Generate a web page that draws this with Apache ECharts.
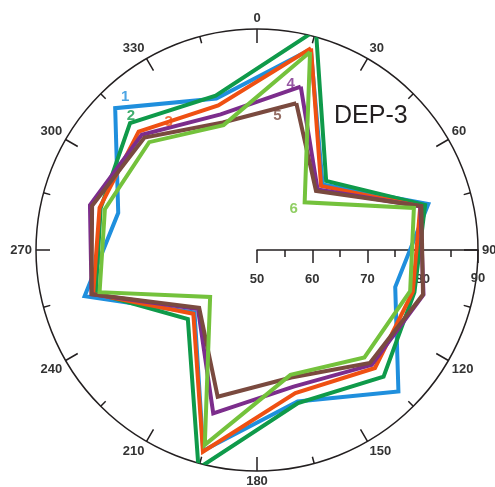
<!DOCTYPE html>
<html>
<head>
<meta charset="utf-8">
<script src="https://cdn.jsdelivr.net/npm/echarts@6/dist/echarts.min.js"></script>
<style>
html,body{margin:0;padding:0;background:#fff;}
#chart{width:495px;height:487px;}
</style>
</head>
<body>
<div id="chart"></div>
<script>
// Angles (degrees, clockwise from top) of the polygon vertices
const angles = [15, 45, 75, 105, 135, 165, 195, 225, 255, 285, 315, 345];
// Radial values per series
const s1 = [87.6, 66.8, 82.1, 75.9, 86.2, 78.4, 87.6, 66.0, 82.3, 76.0, 86.3, 78.4];
const s2 = [91.2, 67.7, 81.5, 79.5, 82.4, 78.7, 90.9, 67.7, 80.2, 79.3, 82.5, 78.9];
const s3 = [87.8, 66.4, 80.6, 79.2, 80.2, 76.8, 87.8, 66.3, 80.7, 79.5, 80.3, 77.1];
const s4 = [80.6, 65.5, 80.6, 81.2, 79.4, 75.6, 80.6, 65.1, 81.0, 81.3, 79.5, 75.4];
const s5 = [77.5, 65.1, 80.8, 81.1, 78.9, 73.9, 77.5, 64.8, 81.0, 80.9, 78.8, 73.9];
const s6 = [87.1, 62.2, 79.4, 78.7, 77.5, 73.4, 86.5, 62.0, 79.5, 78.5, 77.6, 73.4];
const seriesNames = ['1', '2', '3', '4', '5', '6'];
const seriesColors = ['#1f8fdd', '#0f9a4a', '#ef5012', '#7c2d8c', '#7a4a3f', '#74c23c'];
// Which vertex (angle) each series' number label is attached to
const labelAngles = [315, 315, 315, 15, 15, 45];
// Axis ticks
const angleMin = 90, angleMax = 450, angleStep = 30;
const radiusMin = 50, radiusMax = 90, radiusStep = 10;
const chartTitle = 'DEP-3';

const allSeries = [s1, s2, s3, s4, s5, s6];
// angle axis runs from 90 (right) round to 450, so angles below 90 wrap by 360
const toAxisAngle = a => (a < angleMin ? a + 360 : a);

const polarCenter = [257, 250];
const polarRadius = 221;
const labelOffsets = [[10, -11], [1, -7], [30, -10], [-10, -3], [-19, 13], [-11, 7]];
const tickFont = { fontSize: 13, fontWeight: 'bold', fontFamily: 'Liberation Sans' };

const series = [];
allSeries.forEach((vals, i) => {
  const pts = angles.map((a, j) => [vals[j], toAxisAngle(a)]);
  pts.push(pts[0]);
  series.push({
    name: seriesNames[i],
    type: 'line',
    coordinateSystem: 'polar',
    data: pts,
    symbol: 'none',
    clip: false,
    silent: true,
    z: 3 + i,
    lineStyle: { color: seriesColors[i], width: 4, join: 'miter', miterLimit: 10 }
  });
});
// number labels next to the curves
series.push({
  type: 'scatter',
  coordinateSystem: 'polar',
  symbolSize: 1,
  itemStyle: { color: 'rgba(0,0,0,0)' },
  clip: false,
  z: 20,
  data: allSeries.map((vals, i) => {
    const j = angles.indexOf(labelAngles[i]);
    return {
      value: [vals[j], toAxisAngle(angles[j])],
      label: {
        show: true, position: 'inside', formatter: seriesNames[i],
        offset: labelOffsets[i], color: seriesColors[i],
        fontSize: 15, fontWeight: 'bold', fontFamily: 'Liberation Sans'
      }
    };
  })
});

const chart = echarts.init(document.getElementById('chart'), null, { renderer: 'canvas' });
chart.setOption({
  animation: false,
  backgroundColor: '#fff',
  title: [{
    text: chartTitle, left: 334, top: 104, padding: 0,
    textStyle: { fontSize: 25, fontWeight: 'normal', color: '#231f20', fontFamily: 'Liberation Sans' }
  }, {
    // outermost radius tick label (the polar layout drops it at the axis end)
    text: String(radiusMax), left: polarCenter[0] + polarRadius, textAlign: 'center',
    top: polarCenter[1] + 22, padding: 0,
    textStyle: Object.assign({ color: '#333' }, tickFont)
  }],
  polar: { center: polarCenter, radius: polarRadius },
  angleAxis: {
    type: 'value', min: angleMin, max: angleMax, interval: angleStep,
    startAngle: 0, clockwise: true,
    axisLine: { lineStyle: { color: '#231f20', width: 1.5 } },
    axisTick: { show: true, inside: true, length: 14, lineStyle: { color: '#231f20', width: 1.5 } },
    minorTick: { show: true, splitNumber: 2, length: 7, lineStyle: { color: '#231f20', width: 1.5 } },
    axisLabel: Object.assign({ formatter: v => String(v % 360), margin: 4, color: '#333' }, tickFont),
    splitLine: { show: false },
    minorSplitLine: { show: false }
  },
  radiusAxis: {
    type: 'value', min: radiusMin, max: radiusMax, interval: radiusStep,
    axisLine: { lineStyle: { color: '#231f20', width: 1.5 } },
    axisTick: { show: true, length: -13, lineStyle: { color: '#231f20', width: 1.5 } },
    minorTick: { show: true, splitNumber: 2, length: -7, lineStyle: { color: '#231f20', width: 1.5 } },
    axisLabel: Object.assign({ margin: -29, verticalAlign: 'middle', color: '#333',
      showMinLabel: true, showMaxLabel: false }, tickFont),
    splitLine: { show: false },
    minorSplitLine: { show: false }
  },
  series: series
});
</script>
</body>
</html>
